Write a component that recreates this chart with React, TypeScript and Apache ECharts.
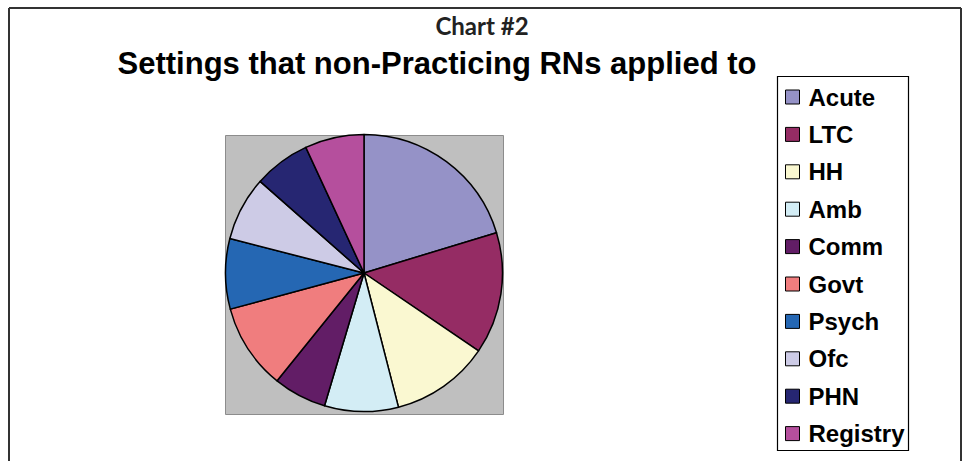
import React, { useEffect, useRef } from "react";
import * as echarts from "echarts";

const categories = ["Acute", "LTC", "HH", "Amb", "Comm", "Govt", "Psych", "Ofc", "PHN", "Registry"];
const values = [20.3, 14.2, 11.5, 8.6, 6.2, 10.0, 8.2, 7.5, 6.6, 6.9];
const colors = ["#9592C7", "#952C64", "#FAF8D1", "#D3EDF5", "#621D66", "#F07D7E", "#2567B3", "#CDCBE6", "#262672", "#B54F9D"];
const subTitle = "Chart #2";
const mainTitle = "Settings that non-Practicing RNs applied to";

export default function App() {
  const ref = useRef<HTMLDivElement>(null);
  useEffect(() => {
    if (!ref.current) return;
    const chart = echarts.init(ref.current, undefined, { renderer: "svg" });
    chart.setOption({
      animation: false,
      backgroundColor: "#ffffff",
      color: colors,
      title: [
        {
          text: subTitle,
          left: 482,
          top: 25.5,
          textAlign: "center",
          textVerticalAlign: "middle",
          padding: 0,
          textStyle: { fontFamily: "Lato", fontWeight: "bold", fontSize: 24, color: "#222" },
        },
        {
          text: mainTitle,
          left: 437,
          top: 63,
          textAlign: "center",
          textVerticalAlign: "middle",
          padding: 0,
          textStyle: { fontFamily: "Liberation Sans", fontWeight: "bold", fontSize: 31, color: "#000" },
        },
      ],
      graphic: [
        { type: "line", shape: { x1: 9, y1: 8, x2: 961, y2: 8 }, style: { stroke: "#333", lineWidth: 2 } },
        { type: "line", shape: { x1: 9, y1: 8, x2: 9, y2: 461 }, style: { stroke: "#333", lineWidth: 2 } },
        { type: "line", shape: { x1: 961, y1: 8, x2: 961, y2: 461 }, style: { stroke: "#333", lineWidth: 2 } },
        {
          type: "rect",
          shape: { x: 225.5, y: 135.5, width: 278, height: 279 },
          style: { fill: "#BFBFBF", stroke: "#8C8C8C", lineWidth: 1 },
          z: -1,
        },
        {
          type: "rect",
          shape: { x: 777.5, y: 76.5, width: 131, height: 374 },
          style: { fill: "#ffffff", stroke: "#000", lineWidth: 1.2 },
          z: -1,
        },
      ],
      legend: {
        orient: "vertical",
        left: 785,
        top: 85,
        padding: 0,
        itemWidth: 14,
        itemHeight: 14,
        itemGap: 13.4,
        icon: "rect",
        data: categories,
        itemStyle: { borderColor: "#000", borderWidth: 1 },
        textStyle: {
          fontFamily: "Liberation Sans",
          fontWeight: "bold",
          fontSize: 24,
          lineHeight: 24,
          color: "#000",
          padding: [0, 0, 0, 4],
        },
      },
      series: [
        {
          type: "pie",
          center: [364, 273],
          radius: 138.5,
          startAngle: 90,
          clockwise: true,
          label: { show: false },
          labelLine: { show: false },
          emphasis: { disabled: true },
          itemStyle: { borderColor: "#000", borderWidth: 1.5 },
          data: categories.map((name, i) => ({ name, value: values[i] })),
        },
      ],
    });
    return () => chart.dispose();
  }, []);
  return <div ref={ref} style={{ position: "fixed", left: 0, top: 0, width: 966, height: 461 }} />;
}
